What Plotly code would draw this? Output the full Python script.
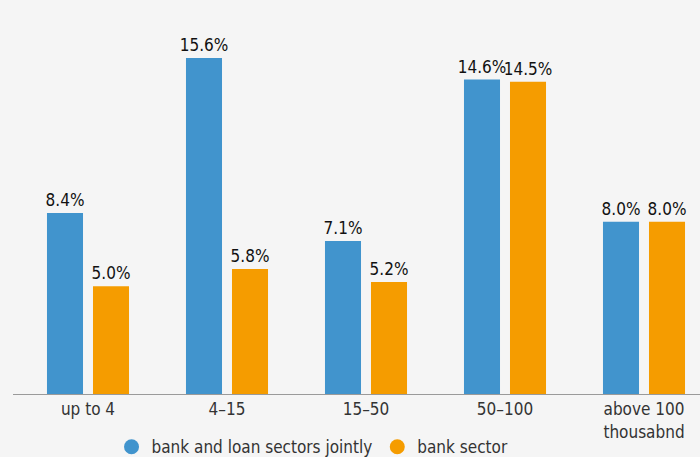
import plotly.graph_objects as go

categories = ["up to 4", "4–15", "15–50", "50–100", "above 100<br>thousabnd"]
jointly = [8.4, 15.6, 7.1, 14.6, 8.0]
bank = [5.0, 5.8, 5.2, 14.5, 8.0]

blue = "#4194cd"
orange = "#f59c00"
bg = "#f5f5f5"
font_family = "DejaVu Sans Condensed, Roboto, sans-serif"

fig = go.Figure()
for name, vals, col in [("bank and loan sectors jointly", jointly, blue),
                        ("bank sector", bank, orange)]:
    fig.add_trace(go.Bar(
        x=list(range(len(categories))), y=vals, name=name,
        marker=dict(color=col, line=dict(width=0)),
        text=[f"{v:.1f}%" for v in vals], textposition="outside",
        constraintext="none",
        textfont=dict(size=17, color="#111", family=font_family),
        cliponaxis=False, showlegend=False,
    ))
    # circle markers for the legend
    fig.add_trace(go.Scatter(
        x=[None], y=[None], mode="markers", name=name,
        marker=dict(color=col, size=15, symbol="circle"),
    ))

plot_left = 13
cat_w = 139.0
x0 = -0.5 - (18.5 - plot_left) / cat_w
x1 = x0 + (700 - plot_left) / cat_w

fig.update_layout(
    width=700, height=457,
    margin=dict(l=plot_left, r=0, t=0, b=63, autoexpand=False),
    paper_bgcolor=bg, plot_bgcolor=bg,
    barmode="group", bargap=0.338, bargroupgap=0.217,
    font=dict(family=font_family, size=16, color="#333"),
    xaxis=dict(
        range=[x0, x1], tickmode="array",
        tickvals=list(range(len(categories))), ticktext=categories,
        showline=True, linecolor="#9a9a9a", linewidth=1,
        showgrid=False, zeroline=False, ticks="",
        tickfont=dict(size=17, color="#333"), automargin=False,
    ),
    yaxis=dict(range=[0, 394 / 21.54], visible=False, showgrid=False),
    legend=dict(orientation="h", x=0.436, xanchor="center", y=-0.135,
                yanchor="middle", font=dict(size=17, color="#333"),
                bgcolor="rgba(0,0,0,0)", itemwidth=30, tracegroupgap=0),
)

fig.write_html("out.html")
